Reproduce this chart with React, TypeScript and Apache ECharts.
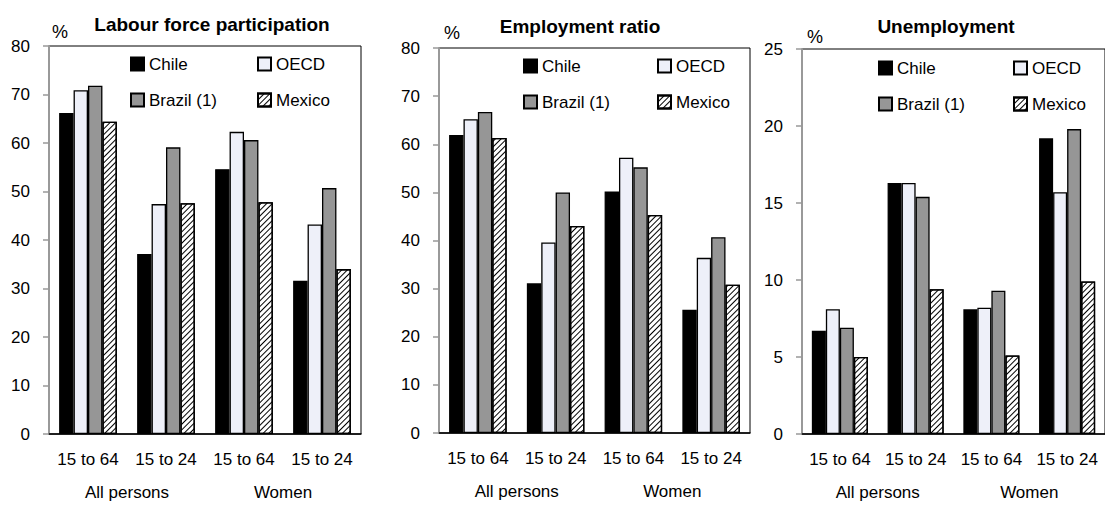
import React, { useEffect, useRef } from "react";
import * as echarts from "echarts";

const ageGroups = ["15 to 64", "15 to 24", "15 to 64", "15 to 24"];
const populationGroups = ["All persons", "Women"];
const countries = ["Chile", "OECD", "Brazil (1)", "Mexico"];

const panelTitles = ["Labour force participation", "Employment ratio", "Unemployment"];
const panelMax = [80, 80, 25];
const panelInterval = [10, 10, 5];

// values per country (order: All 15-64, All 15-24, Women 15-64, Women 15-24)
const participationChile = [66.2, 37.1, 54.6, 31.6];
const participationOECD = [70.9, 47.4, 62.3, 43.2];
const participationBrazil = [71.8, 59.1, 60.6, 50.7];
const participationMexico = [64.4, 47.6, 47.8, 34.0];

const employmentChile = [61.9, 31.1, 50.2, 25.6];
const employmentOECD = [65.2, 39.6, 57.2, 36.4];
const employmentBrazil = [66.7, 50.0, 55.2, 40.7];
const employmentMexico = [61.3, 43.0, 45.3, 30.8];

const unemploymentChile = [6.7, 16.3, 8.1, 19.2];
const unemploymentOECD = [8.1, 16.3, 8.2, 15.7];
const unemploymentBrazil = [6.9, 15.4, 9.3, 19.8];
const unemploymentMexico = [5.0, 9.4, 5.1, 9.9];

const panelData = [
  [participationChile, participationOECD, participationBrazil, participationMexico],
  [employmentChile, employmentOECD, employmentBrazil, employmentMexico],
  [unemploymentChile, unemploymentOECD, unemploymentBrazil, unemploymentMexico],
];

const FONT = '"Liberation Sans", Arial, sans-serif';

const grids = [
  { left: 49, top: 46, width: 312, height: 388 },
  { left: 439, top: 48, width: 311, height: 385 },
  { left: 802, top: 49, width: 311, height: 385 },
];
const titlePos = [
  { x: 212, y: 15 },
  { x: 580, y: 17 },
  { x: 946, y: 17 },
];
const pctPos = [
  { x: 60, y: 23 },
  { x: 452, y: 24 },
  { x: 815, y: 28 },
];
const legendPos = [
  { a: 130, b: 257, top: 54 },
  { a: 523, b: 657, top: 56 },
  { a: 878, b: 1013, top: 58 },
];

const countryStyle = (i: number) => {
  const base: any = { borderColor: "#000", borderWidth: 1.3 };
  if (i === 0) return { ...base, color: "#000000" };
  if (i === 1) return { ...base, color: "#eef0f9" };
  if (i === 2) return { ...base, color: "#969696" };
  return {
    ...base,
    color: "#ffffff",
    decal: {
      symbol: "rect",
      symbolSize: 1,
      dashArrayX: [1, 0],
      dashArrayY: [0.9, 2.3],
      rotation: -Math.PI / 4,
      color: "#000000",
      backgroundColor: "#ffffff",
    },
  };
};

export default function App() {
  const ref = useRef<HTMLDivElement>(null);
  useEffect(() => {
    document.body.style.margin = "0";
    if (!ref.current) return;
    const chart = echarts.init(ref.current, undefined, { renderer: "svg" });

    const grid: any[] = [];
    const xAxis: any[] = [];
    const yAxis: any[] = [];
    const series: any[] = [];
    const title: any[] = [];
    const legend: any[] = [];

    for (let p = 0; p < 3; p++) {
      grid.push({
        ...grids[p],
        show: true,
        borderColor: "#000",
        borderWidth: 1,
        backgroundColor: "transparent",
        containLabel: false,
      });
      xAxis.push({
        type: "category",
        gridIndex: p,
        data: ageGroups,
        position: "bottom",
        axisLine: { show: true, lineStyle: { color: "#000", width: 1.5 } },
        axisTick: { show: false },
        axisLabel: { color: "#000", fontSize: 17, fontFamily: FONT, margin: 17, interval: 0 },
      });
      xAxis.push({
        type: "category",
        gridIndex: p,
        data: populationGroups,
        position: "bottom",
        offset: 33,
        axisLine: { show: false },
        axisTick: { show: false },
        axisLabel: { color: "#000", fontSize: 17, fontFamily: FONT, margin: 17, interval: 0 },
      });
      yAxis.push({
        type: "value",
        gridIndex: p,
        min: 0,
        max: panelMax[p],
        interval: panelInterval[p],
        axisLine: { show: true, lineStyle: { color: "#999", width: 2 } },
        axisTick: { show: true, length: 6, lineStyle: { color: "#999", width: 1.5 } },
        axisLabel: { color: "#000", fontSize: 17, fontFamily: FONT, margin: 19 },
        splitLine: { show: false },
      });
      for (let c = 0; c < 4; c++) {
        series.push({
          type: "bar",
          name: countries[c],
          xAxisIndex: p * 2,
          yAxisIndex: p,
          data: panelData[p][c],
          barGap: "0%",
          barCategoryGap: "26%",
          itemStyle: countryStyle(c),
          emphasis: { disabled: true },
        });
      }
      title.push({
        text: panelTitles[p],
        left: titlePos[p].x,
        top: titlePos[p].y,
        textAlign: "center",
        textStyle: { fontFamily: FONT, fontWeight: "bold", fontSize: 19, color: "#000" },
        padding: 0,
      });
      title.push({
        text: "%",
        left: pctPos[p].x,
        top: pctPos[p].y,
        textAlign: "center",
        textStyle: { fontFamily: FONT, fontWeight: "normal", fontSize: 18, color: "#000" },
        padding: 0,
      });
      const legendCommon = {
        orient: "vertical",
        top: legendPos[p].top,
        itemWidth: 13,
        itemHeight: 13,
        itemGap: 16,
        padding: 0,
        selectedMode: false,
        icon: "rect",
        textStyle: { fontFamily: FONT, fontSize: 17, color: "#000", lineHeight: 20 },
      };
      legend.push({ ...legendCommon, left: legendPos[p].a, data: [countries[0], countries[2]] });
      legend.push({ ...legendCommon, left: legendPos[p].b, data: [countries[1], countries[3]] });
    }

    chart.setOption({
      animation: false,
      backgroundColor: "#fff",
      title,
      legend,
      grid,
      xAxis,
      yAxis,
      series,
    });
    return () => chart.dispose();
  }, []);
  return <div ref={ref} style={{ width: 1105, height: 509 }} />;
}
